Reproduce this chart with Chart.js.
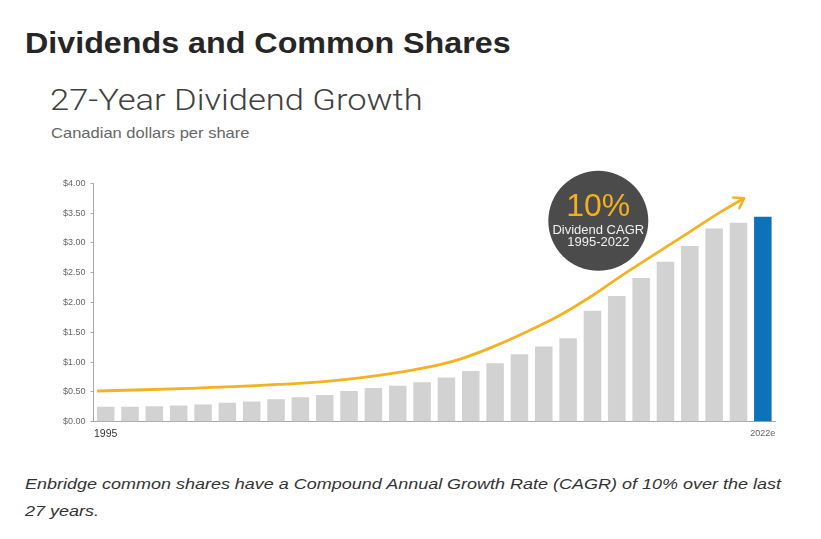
<!DOCTYPE html>
<html>
<head>
<meta charset="utf-8">
<script src="https://cdn.jsdelivr.net/npm/chart.js@4.4.1/dist/chart.umd.min.js"></script>
<style>
  html, body { margin: 0; padding: 0; background: #ffffff; }
  body { width: 821px; height: 539px; position: relative; overflow: hidden; font-family: "Liberation Sans", Arial, sans-serif; }
  .t { position: absolute; white-space: nowrap; line-height: 1; transform-origin: 0 0; }
  #title { left: 25px; top: 28px; font-size: 30px; font-weight: bold; color: #262626; transform: scaleX(1.075); }
  #sub { left: 50px; top: 85px; font-size: 30px; font-family: Roboto, "Liberation Sans", sans-serif; font-weight: 300; color: #404040; transform: scaleX(1.15); }
  #unit { left: 51px; top: 126px; font-size: 14.5px; color: #666666; transform: scaleX(1.14); }
  #note { left: 25px; top: 470px; font-size: 15.5px; font-style: italic; color: #333333; line-height: 27px; transform: scaleX(1.16); }
  #wrap { position: absolute; left: 50px; top: 165px; width: 750px; height: 280px; }
</style>
</head>
<body>
<div class="t" id="title">Dividends and Common Shares</div>
<div class="t" id="sub">27-Year Dividend Growth</div>
<div class="t" id="unit">Canadian dollars per share</div>
<div class="t" id="note">Enbridge common shares have a Compound Annual Growth Rate (CAGR) of 10% over the last<br>27 years.</div>
<div id="wrap"><canvas id="c"></canvas></div>
<script>
const years = ['1995','1996','1997','1998','1999','2000','2001','2002','2003','2004','2005','2006','2007','2008',
               '2009','2010','2011','2012','2013','2014','2015','2016','2017','2018','2019','2020','2021','2022e'];
const dividends = [0.25, 0.25, 0.26, 0.27, 0.29, 0.32, 0.34, 0.375, 0.41, 0.45, 0.515, 0.565, 0.605, 0.66,
                   0.74, 0.85, 0.98, 1.13, 1.26, 1.40, 1.86, 2.11, 2.41, 2.684, 2.95, 3.24, 3.34, 3.44];
// trend arrow (x in category index units, y in dollars)
const trendX = [-0.35, 3.5, 7.1, 9.2, 11.3, 13.3, 14.56, 15.93, 17.3, 18.68, 20.05, 21.2, 22.52, 23.9, 25.27, 26.23];
const trendY = [0.515, 0.56, 0.625, 0.68, 0.78, 0.92, 1.05, 1.26, 1.51, 1.79, 2.13, 2.45, 2.80, 3.16, 3.52, 3.75];
const yTicks = [0, 0.5, 1, 1.5, 2, 2.5, 3, 3.5, 4];
const badgeText = ['10%', 'Dividend CAGR', '1995-2022'];

const GRAY = '#d2d2d2', BLUE = '#0e72b8', GOLD = '#f4b223', BADGE = '#4b4b4b';

const overlay = {
  id: 'overlay',
  afterDatasetsDraw(chart) {
    const ctx = chart.ctx;
    const meta = chart.getDatasetMeta(1);
    const pts = meta.data;
    const p1 = pts[pts.length - 1], p0 = pts[pts.length - 2];
    const ang = Math.atan2(p1.y - p0.y, p1.x - p0.x);
    ctx.save();
    ctx.strokeStyle = GOLD; ctx.lineWidth = 2.5; ctx.lineCap = 'round'; ctx.lineJoin = 'round';
    const L = 11, a = 0.6;
    ctx.beginPath();
    ctx.moveTo(p1.x - L * Math.cos(ang - a), p1.y - L * Math.sin(ang - a));
    ctx.lineTo(p1.x, p1.y);
    ctx.lineTo(p1.x - L * Math.cos(ang + a), p1.y - L * Math.sin(ang + a));
    ctx.stroke();
    // badge
    const sx = chart.scales.x2, sy = chart.scales.y;
    const cx = sx.getPixelForValue(20.24), cy = sy.getPixelForValue(3.37);
    ctx.fillStyle = BADGE;
    ctx.beginPath(); ctx.arc(cx, cy, 50, 0, Math.PI * 2); ctx.fill();
    ctx.textAlign = 'center'; ctx.textBaseline = 'alphabetic';
    ctx.fillStyle = '#f2b01e';
    ctx.font = '32px "Liberation Sans", Arial, sans-serif';
    ctx.fillText(badgeText[0], cx, cy - 5);
    ctx.fillStyle = '#f0f0f0';
    ctx.font = '13px "Liberation Sans", Arial, sans-serif';
    ctx.fillText(badgeText[1], cx, cy + 13);
    ctx.fillText(badgeText[2], cx, cy + 25);
    ctx.restore();
  }
};

new Chart(document.getElementById('c'), {
  type: 'bar',
  data: {
    labels: years,
    datasets: [
      {
        type: 'bar', data: dividends, grouped: false,
        backgroundColor: ctx => ctx.dataIndex === years.length - 1 ? BLUE : GRAY,
        barPercentage: 0.72, categoryPercentage: 1.0, order: 2
      },
      {
        type: 'line', xAxisID: 'x2',
        data: trendX.map((x, i) => ({ x: x, y: trendY[i] })),
        borderColor: GOLD, borderWidth: 2.8, pointRadius: 0, fill: false,
        tension: 0.4, order: 1
      }
    ]
  },
  options: {
    responsive: true, maintainAspectRatio: false, animation: false,
    layout: { padding: { top: 18.3, right: 25, left: 0, bottom: 0 } },
    plugins: { legend: { display: false }, tooltip: { enabled: false } },
    scales: {
      x: {
        type: 'category', offset: true,
        grid: { display: false, drawTicks: false, tickLength: 0 },
        border: { display: true, color: '#a8a8a8', width: 1 },
        afterFit: s => { s.height = 23.3; },
        ticks: {
          autoSkip: false, maxRotation: 0, padding: 6,
          callback: function (v, i) { return (i === 0 || i === years.length - 1) ? years[i] : ''; },
          color: c => c.index === 0 ? '#333333' : '#666666',
          font: c => c.index === 0 ? { size: 10.5, family: '"Liberation Sans", Arial, sans-serif' } : { size: 9, family: '"Liberation Sans", Arial, sans-serif' }
        }
      },
      x2: { type: 'linear', display: false, offset: false, grid: { offset: false }, min: -0.5, max: years.length - 0.5 },
      y: {
        min: 0, max: 4,
        afterFit: s => { s.width = 43.5; },
        afterBuildTicks: s => { s.ticks = yTicks.map(v => ({ value: v })); },
        grid: { drawOnChartArea: false, drawTicks: true, tickLength: 3, color: '#a8a8a8' },
        border: { display: true, color: '#a8a8a8', width: 1 },
        ticks: {
          padding: 5, color: '#666666',
          font: { size: 9, family: '"Liberation Sans", Arial, sans-serif' },
          callback: v => '$' + Number(v).toFixed(2)
        }
      }
    }
  },
  plugins: [overlay]
});
</script>
</body>
</html>
